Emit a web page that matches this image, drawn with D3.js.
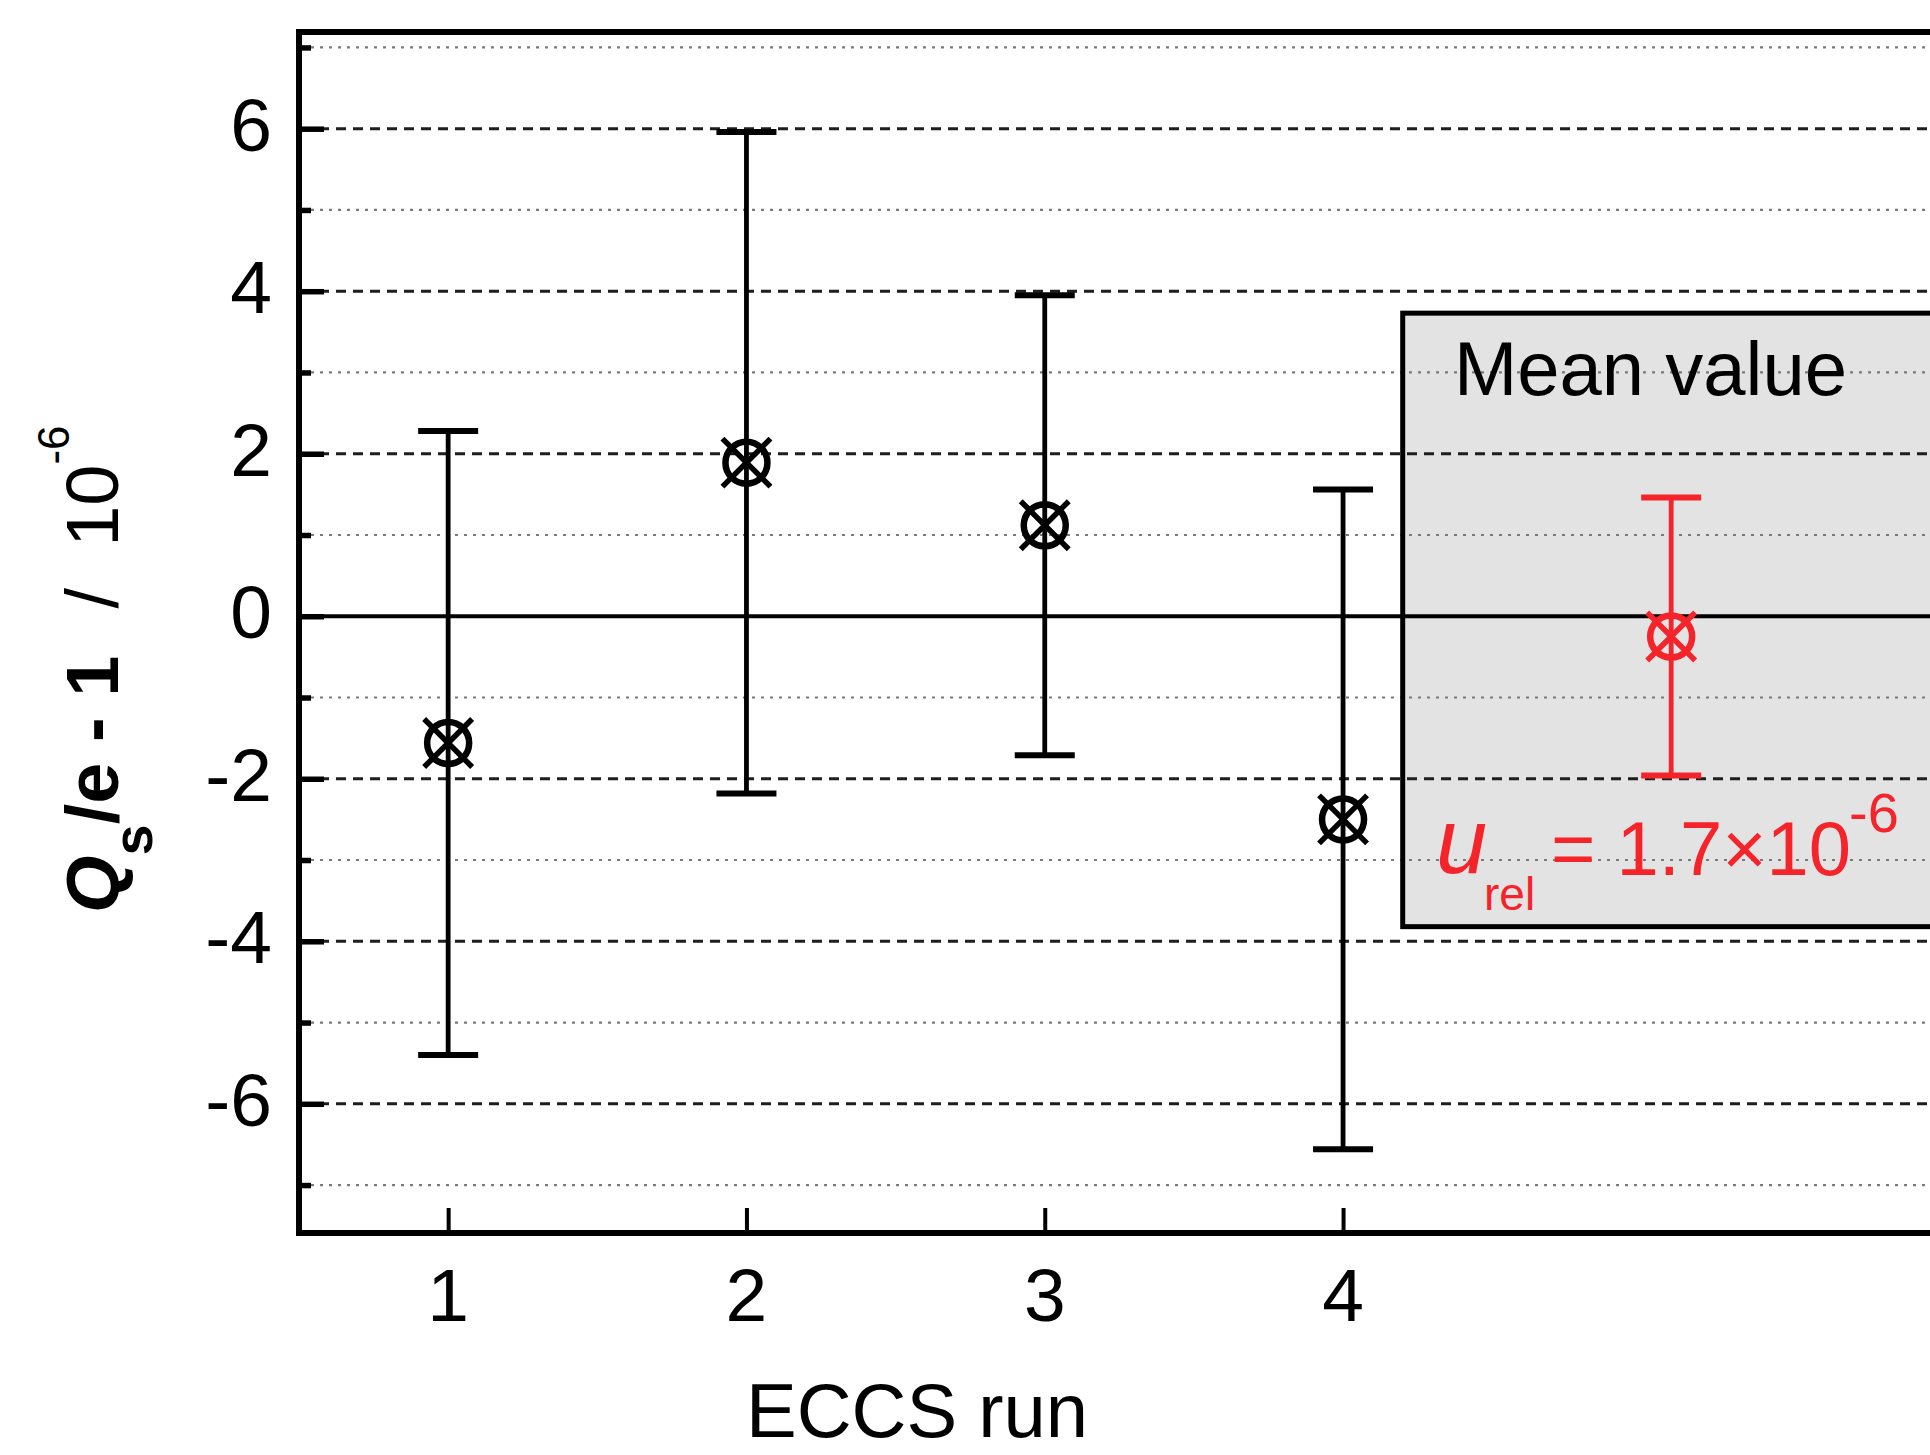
<!DOCTYPE html>
<html>
<head>
<meta charset="utf-8">
<script src="https://cdn.jsdelivr.net/npm/d3@7"></script>
<style>
  html, body { margin: 0; padding: 0; background: #fff; }
  svg { display: block; }
  text { font-family: "Liberation Sans", Arial, Helvetica, sans-serif; }
</style>
</head>
<body>
<script>
// ---- data ----
const runs = [1, 2, 3, 4];
const runValues = [-1.56, 1.89, 1.12, -2.50];
const runErrors = [3.84, 4.07, 2.83, 4.06];
const meanX = 5.1;
const meanValue = -0.25;
const meanError = 1.71;
const xTickValues = [1, 2, 3, 4];
const xTickLabels = ["1", "2", "3", "4"];
const yMajorTicks = [-6, -4, -2, 0, 2, 4, 6];
const yMinorTicks = [-7, -5, -3, -1, 1, 3, 5, 7];
const boxExtent = { x0: 4.2, yTop: 3.73, yBottom: -3.82 };

(function () {
const W = 1930, H = 1455;
const svg = d3.select("body").append("svg").attr("width", W).attr("height", H);
svg.append("rect").attr("width", W).attr("height", H).attr("fill", "#fff");

const x = d3.scaleLinear().domain([0.5, 6.0]).range([299, 299 + 5.5 * 298.3]);
const y = d3.scaleLinear().domain([-7.59, 7.19]).range([1233, 32]);
const pL = x(0.5), pR = W + 10, pT = y(7.19), pB = y(-7.59);

// gray box fill
svg.append("rect")
  .attr("x", x(boxExtent.x0)).attr("y", y(boxExtent.yTop))
  .attr("width", pR - x(boxExtent.x0)).attr("height", y(boxExtent.yBottom) - y(boxExtent.yTop))
  .attr("fill", "#e3e3e3");

// gridlines
svg.append("g").selectAll("line").data(yMajorTicks.filter(d => d !== 0)).join("line")
  .attr("x1", pL + 3).attr("x2", pR).attr("y1", d => y(d)).attr("y2", d => y(d))
  .attr("stroke", "#1e1e1e").attr("stroke-width", 3).attr("stroke-dasharray", "10,7");
svg.append("g").selectAll("line").data(yMinorTicks).join("line")
  .attr("x1", pL + 3).attr("x2", pR).attr("y1", d => y(d)).attr("y2", d => y(d))
  .attr("stroke", "#7a7a7a").attr("stroke-width", 2.2).attr("stroke-dasharray", "3,6");
// zero line
svg.append("line").attr("x1", pL).attr("x2", pR).attr("y1", y(0)).attr("y2", y(0))
  .attr("stroke", "#000").attr("stroke-width", 3.8);

// box border
svg.append("rect")
  .attr("x", x(boxExtent.x0)).attr("y", y(boxExtent.yTop))
  .attr("width", pR - x(boxExtent.x0)).attr("height", y(boxExtent.yBottom) - y(boxExtent.yTop))
  .attr("fill", "none").attr("stroke", "#000").attr("stroke-width", 5);

// axes via d3
const yAxisMajor = d3.axisRight(y).tickValues(yMajorTicks).tickSize(25).tickFormat("");
const yAxisMinor = d3.axisRight(y).tickValues(yMinorTicks).tickSize(12).tickFormat("");
const gYm = svg.append("g").attr("transform", `translate(${pL},0)`).call(yAxisMajor);
const gYn = svg.append("g").attr("transform", `translate(${pL},0)`).call(yAxisMinor);
[gYm, gYn].forEach(g => {
  g.select(".domain").remove();
  g.selectAll(".tick line").attr("stroke", "#000").attr("stroke-width", 5.5);
});
const xAxis = d3.axisTop(x).tickValues(xTickValues).tickSize(25).tickFormat("");
const gX = svg.append("g").attr("transform", `translate(0,${pB})`).call(xAxis);
gX.select(".domain").remove();
gX.selectAll(".tick line").attr("stroke", "#000").attr("stroke-width", 4);

// frame lines
svg.append("line").attr("x1", pL).attr("x2", pL).attr("y1", pT - 3).attr("y2", pB + 3)
  .attr("stroke", "#000").attr("stroke-width", 6);
svg.append("line").attr("x1", pL - 3).attr("x2", pR).attr("y1", pT).attr("y2", pT)
  .attr("stroke", "#000").attr("stroke-width", 6);
svg.append("line").attr("x1", pL - 3).attr("x2", pR).attr("y1", pB).attr("y2", pB)
  .attr("stroke", "#000").attr("stroke-width", 6);

// tick labels
svg.append("g").selectAll("text").data(yMajorTicks).join("text")
  .attr("x", 272).attr("y", d => y(d) + 22)
  .attr("text-anchor", "end").attr("font-size", 75).attr("fill", "#000")
  .text(d => d);
svg.append("g").selectAll("text").data(xTickValues).join("text")
  .attr("x", d => x(d)).attr("y", 1321)
  .attr("text-anchor", "middle").attr("font-size", 75).attr("fill", "#000")
  .text((d, i) => xTickLabels[i]);

// axis titles
svg.append("text").attr("x", 917).attr("y", 1437).attr("text-anchor", "middle")
  .attr("font-size", 76).attr("fill", "#000").text("ECCS run");

const yt = svg.append("text").attr("transform", "translate(118,913) rotate(-90)")
  .attr("font-size", 74).attr("fill", "#000").style("white-space", "pre");
yt.append("tspan").attr("font-weight", "bold").attr("font-style", "italic").text("Q");
yt.append("tspan").attr("font-weight", "bold").attr("font-size", 56).attr("dy", 34).text("s");
yt.append("tspan").attr("font-weight", "bold").attr("dy", -34).text("/e - 1");
yt.append("tspan").attr("dx", 6).text("  /  10");
yt.append("tspan").attr("font-size", 44).attr("dy", -49).text("-6");

// error bars + markers
function marker(g, color) {
  g.append("circle").attr("r", 21).attr("fill", "none").attr("stroke", color).attr("stroke-width", 6.5);
  g.append("line").attr("x1", -24).attr("y1", -24).attr("x2", 24).attr("y2", 24)
    .attr("stroke", color).attr("stroke-width", 5.5);
  g.append("line").attr("x1", -24).attr("y1", 24).attr("x2", 24).attr("y2", -24)
    .attr("stroke", color).attr("stroke-width", 5.5);
}
function errorBar(cx, v, e, color) {
  const g = svg.append("g");
  g.append("line").attr("x1", x(cx)).attr("x2", x(cx)).attr("y1", y(v + e)).attr("y2", y(v - e))
    .attr("stroke", color).attr("stroke-width", 4.8);
  [v + e, v - e].forEach(yy => {
    g.append("line").attr("x1", x(cx) - 30).attr("x2", x(cx) + 30).attr("y1", y(yy)).attr("y2", y(yy))
      .attr("stroke", color).attr("stroke-width", 6);
  });
  const m = g.append("g").attr("transform", `translate(${x(cx)},${y(v)})`);
  marker(m, color);
}
runs.forEach((r, i) => errorBar(r, runValues[i], runErrors[i], "#000"));
const red = "#f5242a";
errorBar(meanX, meanValue, meanError, red);

// box texts
svg.append("text").attr("x", 1454).attr("y", 395).attr("font-size", 76).attr("fill", "#000").text("Mean value");
svg.append("text").attr("x", 1436).attr("y", 873).attr("font-size", 92).attr("font-style", "italic")
  .attr("fill", red).text("u");
svg.append("text").attr("x", 1484).attr("y", 910).attr("font-size", 46).attr("fill", red).text("rel");
svg.append("text").attr("x", 1551).attr("y", 875).attr("font-size", 76).attr("fill", red).text("= 1.7\u00d710");
svg.append("text").attr("x", 1849).attr("y", 832).attr("font-size", 56).attr("fill", red).text("-6");
})();
</script>
</body>
</html>
